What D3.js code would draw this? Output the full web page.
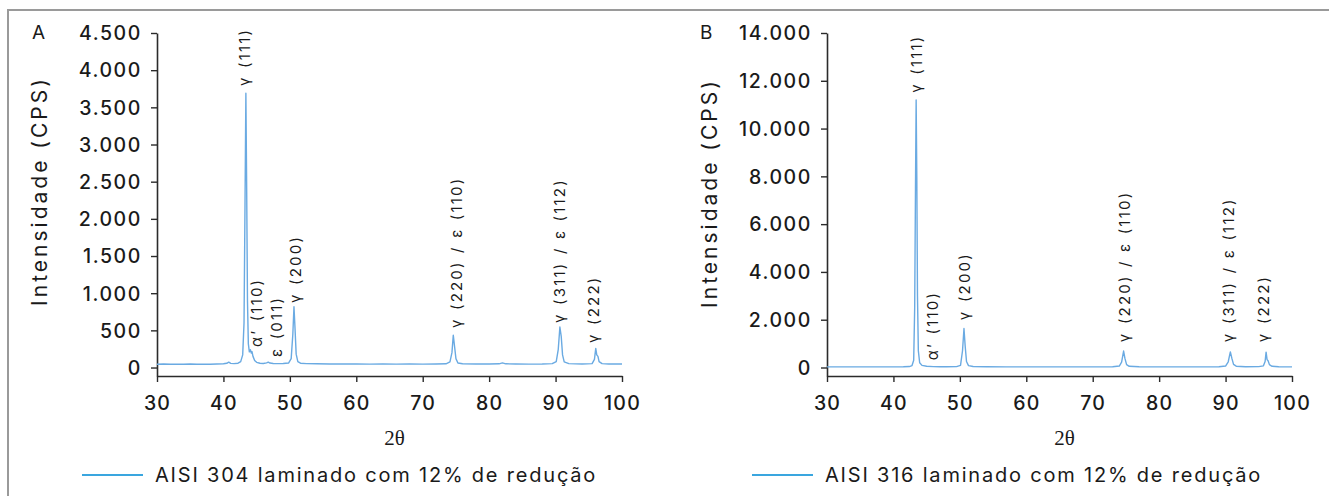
<!DOCTYPE html>
<html>
<head>
<meta charset="utf-8">
<script src="https://cdn.jsdelivr.net/npm/d3@7"></script>
<style>
  html, body { margin: 0; padding: 0; background: #fff; }
  svg { display: block; }
  .tick text, .lbl, .ttl, .leg { font-family: "Inter", "DejaVu Sans", sans-serif; fill: #1a1a1a; }
</style>
</head>
<body>
<svg id="chart" width="1329" height="496"></svg>
<script>
// XRD patterns: [2θ, intensity (CPS)]
const aisi304 = [
  [30,45],[31,47],[32,44],[33,46],[34,45],[35,47],[36,44],[37,46],[38,45],[39,48],[40,50],
  [40.5,57],[40.8,72],[41.1,56],[41.6,52],[42.2,58],[42.6,80],[42.9,170],[43.1,600],[43.25,2200],
  [43.38,3690],[43.5,2400],[43.62,900],[43.75,320],[43.9,210],[44.05,240],[44.2,195],[44.3,215],
  [44.45,150],[44.7,95],[45.0,70],[45.5,58],[46.0,55],[46.5,62],[46.75,72],[47.0,60],[47.5,55],
  [48,52],[49,54],[49.8,60],[50.2,120],[50.45,450],[50.62,818],[50.78,520],[50.95,180],[51.2,80],
  [51.6,58],[52.5,52],[54,50],[56,48],[58,47],[60,48],[62,46],[64,47],[66,46],[68,47],[70,46],
  [72,47],[73.5,50],[74.1,75],[74.4,200],[74.6,435],[74.8,280],[75.0,120],[75.3,60],[76,50],
  [78,48],[80,47],[81.5,50],[82.0,62],[82.5,50],[84,47],[86,46],[88,47],[89.5,52],[90.1,80],
  [90.4,240],[90.65,545],[90.85,420],[91.05,170],[91.3,75],[92,52],[94,48],[95.5,52],[95.85,110],
  [96.05,258],[96.2,170],[96.38,150],[96.55,80],[97,52],[98,48],[100,47]
];
const aisi316 = [
  [30,25],[32,27],[34,25],[36,26],[38,25],[40,27],[41.5,30],[42.4,40],[42.8,80],[43.05,300],
  [43.2,2500],[43.32,7500],[43.42,11200],[43.52,8000],[43.62,3000],[43.75,700],[43.95,200],
  [44.3,90],[45,50],[46,38],[47,33],[48,32],[49.5,38],[50.1,90],[50.4,700],[50.62,1630],
  [50.8,900],[51.0,250],[51.3,80],[52,42],[54,32],[57,28],[60,26],[65,25],[70,26],[73,30],
  [74.0,60],[74.35,220],[74.65,690],[74.85,380],[75.1,120],[75.5,50],[77,32],[80,27],[85,26],
  [89,30],[90.0,60],[90.4,240],[90.72,655],[90.95,380],[91.2,130],[91.6,55],[93,32],[95,35],
  [95.7,70],[95.95,250],[96.1,645],[96.25,330],[96.4,280],[96.6,120],[97,50],[98,32],[100,28]
];

// Phase labels: text plus the [2θ, CPS] point where the rotated text starts
const labels304 = [
  { text: "γ (111)", at: [43.25, 3787] },
  { text: "α’ (110)", at: [45.05, 276] },
  { text: "ε (011)", at: [48.06, 141] },
  { text: "γ (200)", at: [50.92, 868] },
  { text: "γ (220) / ε (110)", at: [75.16, 531] },
  { text: "γ (311) / ε (112)", at: [90.67, 599] },
  { text: "γ (222)", at: [95.78, 330] }
];
const labels316 = [
  { text: "γ (111)", at: [43.55, 11496] },
  { text: "α’ (110)", at: [45.85, 306] },
  { text: "γ (200)", at: [50.67, 1982] },
  { text: "γ (220) / ε (110)", at: [74.75, 1060] },
  { text: "γ (311) / ε (112)", at: [90.55, 1060] },
  { text: "γ (222)", at: [95.82, 1060] }
];

const xTicks = [30, 40, 50, 60, 70, 80, 90, 100];
const yTicks304 = [0, 500, 1000, 1500, 2000, 2500, 3000, 3500, 4000, 4500];
const yTicks316 = [0, 2000, 4000, 6000, 8000, 10000, 12000, 14000];

const panelLetters = ["A", "B"];
const legendNames = ["AISI 304 laminado com 12% de redução", "AISI 316 laminado com 12% de redução"];
const xTitle = "2θ";
const yTitle = "Intensidade (CPS)";

const ptBR = d3.formatLocale({ decimal: ",", thousands: ".", grouping: [3], currency: ["", ""] });
const fmt = ptBR.format(",d");

const svg = d3.select("#chart");
const lineColor = "#6aaae2";
const axisColor = "#2b2b2b";

// frame
svg.append("path")
  .attr("d", "M8,496V10H1329")
  .attr("fill", "none")
  .attr("stroke", "#9a9a9a")
  .attr("stroke-width", 2);

function panel(opt) {
  const g = svg.append("g");
  const x = d3.scaleLinear().domain([30, 100]).range([opt.x0, opt.x1]);
  const y = d3.scaleLinear().domain([opt.yMin, opt.yMax]).range([376, 33]);

  // x axis
  const xa = g.append("g").attr("transform", "translate(0,376)")
    .call(d3.axisBottom(x).tickValues(xTicks).tickSize(6).tickSizeOuter(0).tickFormat(d3.format("d")));
  xa.selectAll("text").attr("dy", "1.28em").style("font-size", "19.5px")
    .style("font-weight", 500).style("letter-spacing", "1.2px");

  // y axis
  const ya = g.append("g").attr("transform", `translate(${opt.x0},0)`)
    .call(d3.axisLeft(y).tickValues(opt.yTicks).tickSize(6).tickSizeOuter(0).tickPadding(9).tickFormat(fmt));
  ya.selectAll("text").style("font-size", "19.5px").style("font-weight", 500)
    .style("letter-spacing", "1.6px").attr("dy", "0.35em");

  [xa, ya].forEach(a => {
    a.select(".domain").attr("stroke", axisColor).attr("stroke-width", 1.6);
    a.selectAll(".tick line").attr("stroke", axisColor).attr("stroke-width", 1.4);
  });

  // pattern
  const line = d3.line().x(d => x(d[0])).y(d => y(d[1]));
  g.append("path").datum(opt.data)
    .attr("d", line)
    .attr("fill", "none")
    .attr("stroke", lineColor)
    .attr("stroke-width", 1.4)
    .attr("stroke-linejoin", "round");

  // phase labels
  g.selectAll(".lbl").data(opt.labels).join("text")
    .attr("class", "lbl")
    .attr("transform", d => `translate(${x(d.at[0])},${y(d.at[1])}) rotate(-90)`)
    .attr("dy", "0.35em")
    .style("font-size", "15px")
    .style("letter-spacing", "2.2px")
    .style("word-spacing", "1px")
    .text(d => d.text);

  // panel letter
  g.append("text").attr("class", "ttl")
    .attr("x", opt.letterX).attr("y", 39)
    .style("font-size", "19px")
    .text(opt.letter);

  // y title
  g.append("text").attr("class", "ttl")
    .attr("transform", `translate(${opt.yTitleX},${opt.yTitleY}) rotate(-90)`)
    .attr("text-anchor", "middle")
    .style("font-size", "21px")
    .style("letter-spacing", "3px")
    .text(yTitle);

  // x title
  g.append("text")
    .attr("x", (opt.x0 + opt.x1) / 2 + 5).attr("y", 445)
    .attr("text-anchor", "middle")
    .style("font-family", "'Liberation Serif', 'DejaVu Serif', serif")
    .style("font-size", "21px")
    .attr("fill", "#1a1a1a")
    .text(xTitle);

  // legend
  g.append("line")
    .attr("x1", opt.legX).attr("x2", opt.legX + 61)
    .attr("y1", 475).attr("y2", 475)
    .attr("stroke", "#3aa6df").attr("stroke-width", 2);
  g.append("text").attr("class", "leg")
    .attr("x", opt.legX + 73).attr("y", 482)
    .style("font-size", "20px")
    .style("letter-spacing", "1.8px")
    .text(opt.legend);
}

panel({
  x0: 157, x1: 622, yMin: -114, yMax: 4500, yTicks: yTicks304,
  data: aisi304, labels: labels304, letter: panelLetters[0], letterX: 32,
  yTitleX: 47, yTitleY: 191, legX: 82, legend: legendNames[0]
});
panel({
  x0: 827, x1: 1292, yMin: -356, yMax: 14000, yTicks: yTicks316,
  data: aisi316, labels: labels316, letter: panelLetters[1], letterX: 700,
  yTitleX: 717, yTitleY: 193, legX: 752, legend: legendNames[1]
});
</script>
</body>
</html>
